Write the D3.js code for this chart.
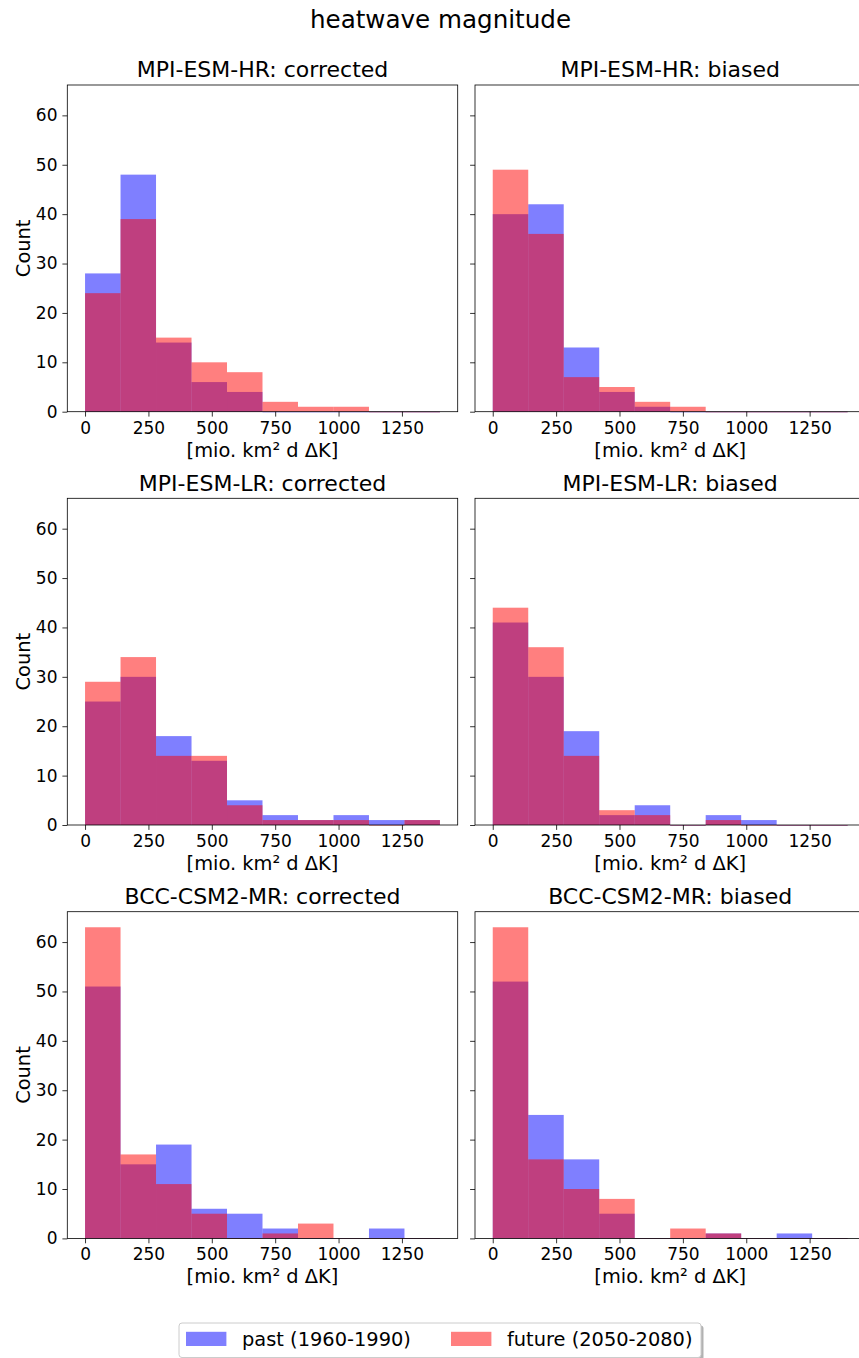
<!DOCTYPE html>
<html>
<head>
<meta charset="utf-8">
<script src="https://cdn.jsdelivr.net/npm/d3@7"></script>
<style>
  html, body { margin: 0; padding: 0; background: #fff; }
  svg { display: block; font-family: "DejaVu Sans", sans-serif; }
</style>
</head>
<body>
<script>
// Bin edges shared by every histogram (10 bins of width 140)
const binEdges = [0, 140, 280, 420, 560, 700, 840, 980, 1120, 1260, 1400];

// Panel titles, row by row (left: corrected, right: biased)
const panelTitles = [
  "MPI-ESM-HR: corrected", "MPI-ESM-HR: biased",
  "MPI-ESM-LR: corrected", "MPI-ESM-LR: biased",
  "BCC-CSM2-MR: corrected", "BCC-CSM2-MR: biased"
];

// Counts per bin, past period (1960-1990)
const pastHRcorr = [28, 48, 14, 6, 4, 0, 0, 0, 0, 0];
const pastHRbias = [40, 42, 13, 4, 1, 0, 0, 0, 0, 0];
const pastLRcorr = [25, 30, 18, 13, 5, 2, 1, 2, 1, 1];
const pastLRbias = [41, 30, 19, 2, 4, 0, 2, 1, 0, 0];
const pastBCCcorr = [51, 15, 19, 6, 5, 2, 0, 0, 2, 0];
const pastBCCbias = [52, 25, 16, 5, 0, 0, 1, 0, 1, 0];

// Counts per bin, future period (2050-2080)
const futHRcorr = [24, 39, 15, 10, 8, 2, 1, 1, 0, 0];
const futHRbias = [49, 36, 7, 5, 2, 1, 0, 0, 0, 0];
const futLRcorr = [29, 34, 14, 14, 4, 1, 1, 1, 0, 1];
const futLRbias = [44, 36, 14, 3, 2, 0, 1, 0, 0, 0];
const futBCCcorr = [63, 17, 11, 5, 0, 1, 3, 0, 0, 0];
const futBCCbias = [63, 16, 10, 8, 0, 2, 1, 0, 0, 0];

const pastSeries = [pastHRcorr, pastHRbias, pastLRcorr, pastLRbias, pastBCCcorr, pastBCCbias];
const futureSeries = [futHRcorr, futHRbias, futLRcorr, futLRbias, futBCCcorr, futBCCbias];

const xTicks = [0, 250, 500, 750, 1000, 1250];
const yTicks = [0, 10, 20, 30, 40, 50, 60];
const seriesNames = ["past (1960-1990)", "future (2050-2080)"];
const seriesColors = ["rgb(0,0,255)", "rgb(255,0,0)"];

const W = 859, H = 1358;
const svg = d3.select("body").append("svg").attr("width", W).attr("height", H);

// Figure layout
const colX = [67.3, 475];
const rowY = [85, 498.3, 911.7];
const pw = 390.4, ph = 326.7;

// Shared y range across panels
const yMax = d3.max([...pastSeries, ...futureSeries].flat()) * 1.05;
const xPad = (binEdges[binEdges.length - 1] - binEdges[0]) * 0.05;

const x = d3.scaleLinear()
  .domain([binEdges[0] - xPad, binEdges[binEdges.length - 1] + xPad])
  .range([0, pw]);
const y = d3.scaleLinear().domain([0, yMax]).range([ph, 0]);

svg.append("text")
  .attr("x", 440.5).attr("y", 28.3)
  .attr("text-anchor", "middle")
  .attr("font-size", 24.6)
  .attr("fill", "#000")
  .text("heatwave magnitude");

panelTitles.forEach((title, i) => {
  const row = Math.floor(i / 2), col = i % 2;
  const g = svg.append("g").attr("transform", `translate(${colX[col]},${rowY[row]})`);

  [pastSeries[i], futureSeries[i]].forEach((counts, s) => {
    g.append("g").selectAll("rect")
      .data(counts)
      .join("rect")
      .attr("x", (d, k) => x(binEdges[k]))
      .attr("width", (d, k) => x(binEdges[k + 1]) - x(binEdges[k]))
      .attr("y", d => y(d))
      .attr("height", d => Math.max(y(0) - y(d), 0.6))
      .attr("fill", seriesColors[s])
      .attr("fill-opacity", 0.5);
  });

  // Frame
  g.append("rect")
    .attr("width", pw).attr("height", ph)
    .attr("fill", "none").attr("stroke", "#000").attr("stroke-width", 0.8);

  // X axis
  const xa = g.append("g").attr("transform", `translate(0,${ph})`)
    .call(d3.axisBottom(x).tickValues(xTicks).tickSize(4.9).tickPadding(4.9).tickFormat(d3.format("d")));
  xa.select(".domain").remove();
  xa.selectAll("line").attr("stroke-width", 0.8);
  xa.selectAll("text").attr("font-size", 17).attr("font-family", "DejaVu Sans").attr("fill", "#000");

  // Y axis (labels only on left column)
  const ya = g.append("g")
    .call(d3.axisLeft(y).tickValues(yTicks).tickSize(4.9).tickPadding(4.9)
      .tickFormat(col === 0 ? d3.format("d") : () => ""));
  ya.select(".domain").remove();
  ya.selectAll("line").attr("stroke-width", 0.8);
  ya.selectAll("text").attr("font-size", 17).attr("font-family", "DejaVu Sans").attr("fill", "#000");

  g.append("text")
    .attr("x", pw / 2).attr("y", -7.7)
    .attr("text-anchor", "middle")
    .attr("font-size", 22)
    .text(title);

  g.append("text")
    .attr("x", pw / 2).attr("y", ph + 45)
    .attr("text-anchor", "middle")
    .attr("font-size", 19.4)
    .text("[mio. km² d ΔK]");

  if (col === 0) {
    g.append("text")
      .attr("transform", `translate(-37.8,${ph / 2}) rotate(-90)`)
      .attr("text-anchor", "middle")
      .attr("font-size", 19.4)
      .text("Count");
  }
});

// Legend with drop shadow
const lg = svg.append("g").attr("transform", "translate(179,1323)");
const lw = 522, lh = 34.5;
lg.append("rect").attr("x", 2.5).attr("y", 2.5).attr("width", lw).attr("height", lh)
  .attr("rx", 3).attr("fill", "#000").attr("fill-opacity", 0.3);
lg.append("rect").attr("width", lw).attr("height", lh).attr("rx", 3)
  .attr("fill", "#fff").attr("stroke", "#ccc").attr("stroke-width", 1);
const legendX = [7, 272];
seriesNames.forEach((name, s) => {
  lg.append("rect").attr("x", legendX[s]).attr("y", 8.8).attr("width", 40.4).attr("height", 14.2)
    .attr("fill", seriesColors[s]).attr("fill-opacity", 0.5);
  lg.append("text").attr("x", legendX[s] + 56).attr("y", 22.8)
    .attr("font-size", 19.4).text(name);
});
</script>
</body>
</html>
